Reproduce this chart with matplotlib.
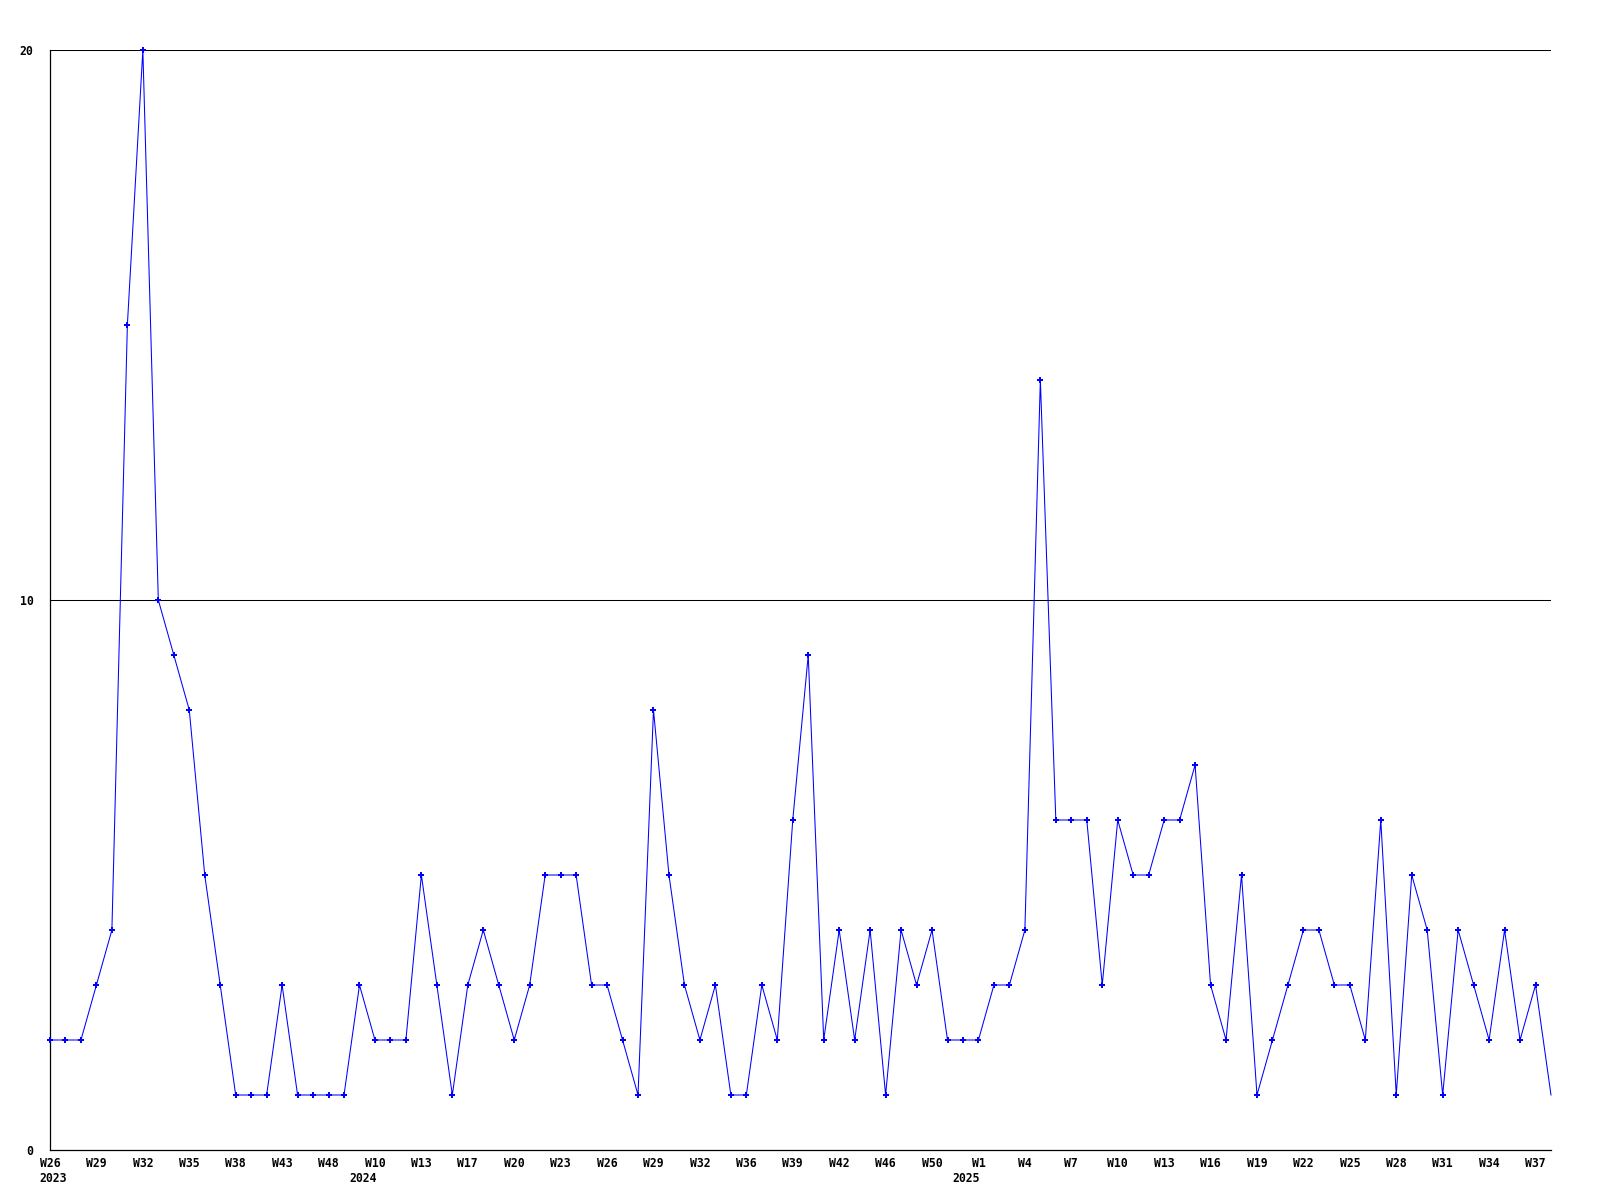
import numpy as np
import matplotlib
matplotlib.use('Agg')
import matplotlib.pyplot as plt

# weekly counts, one point per week that has data
counts = [2, 2, 2, 3, 4, 15, 20, 10, 9, 8,
          5, 3, 1, 1, 1, 3, 1, 1, 1, 1,
          3, 2, 2, 2, 5, 3, 1, 3, 4, 3,
          2, 3, 5, 5, 5, 3, 3, 2, 1, 8,
          5, 3, 2, 3, 1, 1, 3, 2, 6, 9,
          2, 4, 2, 4, 1, 4, 3, 4, 2, 2,
          2, 3, 3, 4, 14, 6, 6, 6, 3, 6,
          5, 5, 6, 6, 7, 3, 2, 5, 1, 2,
          3, 4, 4, 3, 3, 2, 6, 1, 5, 4,
          1, 4, 3, 2, 4, 2, 3, 1]

# a label every third point
week_labels = ['W26', 'W29', 'W32', 'W35', 'W38', 'W43', 'W48', 'W10', 'W13', 'W17',
               'W20', 'W23', 'W26', 'W29', 'W32', 'W36', 'W39', 'W42', 'W46', 'W50',
               'W1', 'W4', 'W7', 'W10', 'W13', 'W16', 'W19', 'W22', 'W25', 'W28',
               'W31', 'W34', 'W37']
years = ['2023', '2024', '2025']
year_start = [0, 20, 59]

x = np.arange(len(counts))
fnt = dict(family='DejaVu Sans Mono', weight='bold', size=8.3)

fig = plt.figure(figsize=(16, 12), dpi=100)
ax = fig.add_axes([50 / 1600, 50 / 1200, 1501 / 1600, 1100 / 1200])

ax.plot(x, counts, color='#0000ff', lw=0.75, zorder=3, clip_on=False)
ax.plot(x[:-1], counts[:-1], ls='none', color='#0000ff', marker='P', ms=5,
        mew=0, clip_on=False, zorder=4)

for v in [10, 20]:
    ax.axhline(v, color='black', lw=0.75, zorder=1)

ax.set_xlim(0, len(counts) - 1)
ax.set_ylim(0, 20)
ax.spines['top'].set_visible(False)
ax.spines['right'].set_visible(False)
for s in ['left', 'bottom']:
    ax.spines[s].set_linewidth(0.9)

ax.set_yticks([0, 10, 20])
ax.set_yticklabels(['0', '10', '20'], fontdict=fnt)
ax.set_xticks(np.arange(0, len(counts), 3)[:len(week_labels)])
ax.set_xticklabels(week_labels, fontdict=fnt)
ax.tick_params(axis='y', length=0, pad=12)
ax.tick_params(axis='x', length=0, pad=5)

for yr, pos in zip(years, year_start):
    ax.annotate(yr, xy=(pos, 0), xycoords='data', xytext=(-7.6, -15.5),
                textcoords='offset points', ha='left', va='top',
                annotation_clip=False, **fnt)

fig.savefig('out.png', dpi=100)
